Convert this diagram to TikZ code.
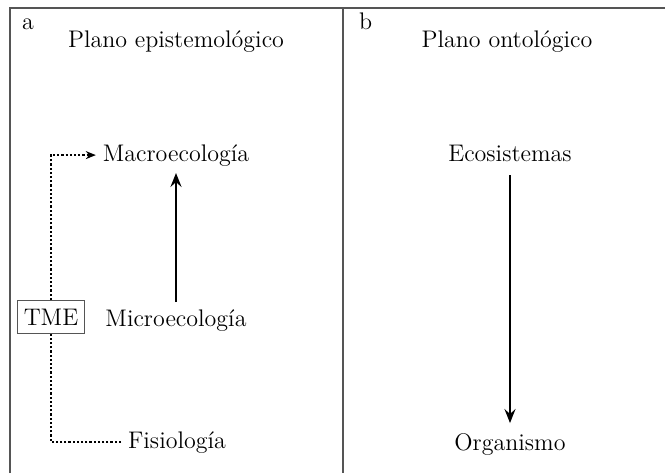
\documentclass[tikz,border=0pt]{standalone}
\usetikzlibrary{positioning,arrows.meta}
\definecolor{gris}{HTML}{555555}

\begin{document}
\begin{tikzpicture}[x=0.5pt, y=-0.5pt, font=\large,
      txt/.style={inner sep=0.3333em, anchor=base},
      t/.style={-{Stealth[length=7pt, width=5.5pt, inset=2.5pt]}, line width=1.3pt},
      pt/.style={densely dotted, line width=1.1pt},
      marco/.style={draw=gris, line width=0.7pt},
      caja/.style={draw=gris, line width=0.6pt, inner xsep=3pt, inner ysep=4.1pt}]

    \useasboundingbox (0,0) rectangle (665,473);

    % Marco de los dos planos
    \draw[marco] (10,473) -- (10,8) -- (665,8);
    \draw[marco] (343,8) -- (343,473);

    \node[txt, anchor=base west] (a) at (15,29) {a};
    \node[txt, anchor=base west] (b) at (352,29) {b};
    \node[txt] (epis) at (176,47) {Plano epistemológico};
    \node[txt] (onto) at (507,47) {Plano ontológico};

    % Plano epistemológico
    \node[txt] (macro) at (176,161) {Macroecología};
    \node[txt] (micro) at (176,326) {Microecología};
    \node[txt] (fis) at (177,448) {Fisiología};
    \node[caja] (tme) at (51,317) {TME};

    \draw[t] (micro.north) -- (macro.south);
    \draw[pt] (fis.west) -| (tme.south);
    \draw[pt, -{Stealth[length=5pt, width=4pt]}] (tme.north) |- (macro.west);

    % Plano ontológico
    \node[txt] (eco) at (510,161) {Ecosistemas};
    \node[txt] (org) at (510,450) {Organismo};

    \draw[t, shorten <=3.5pt, shorten >=1.5pt] (eco.south) -- (org.north);
  \end{tikzpicture}
\end{document}
